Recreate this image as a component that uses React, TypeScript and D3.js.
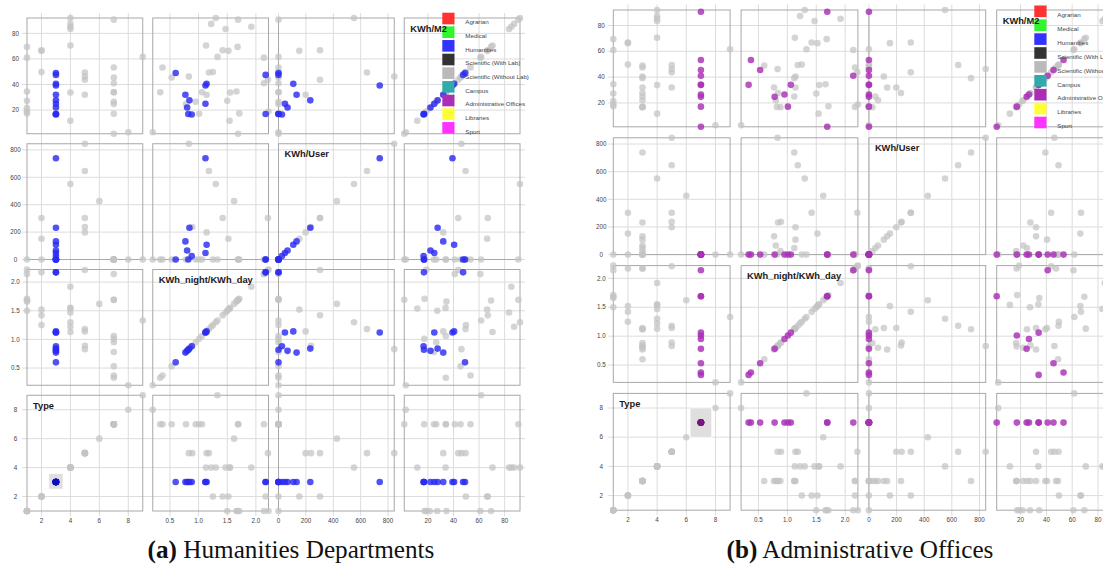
import React from 'react';
import * as d3 from 'd3';

const categories = [
  'Agrarian', 'Medical', 'Humanities', 'Scientific (With Lab)', 'Scientific (Without Lab)',
  'Campus', 'Administrative Offices', 'Libraries', 'Sport',
];
const categoryColors = [
  '#ff3131', '#31f531', '#3333ff', '#333333', '#bababa', '#2fabab', '#ab2fb5', '#ffff33', '#ff33ff',
];
const traitNames = ['Type', 'KWh_night/KWh_day', 'KWh/User', 'KWh/M2'];

// one entry per building (parallel arrays); null = missing value
const buildingType = [
  1, 1, 1, 1, 1, 1, 1,
  2, 2, 2, 2,
  3, 3, 3, 3, 3, 3, 3, 3, 3, 3, 3,
  4, 4, 4, 4, 4, 4, 4,
  5, 5, 5, 5, 5,
  6,
  7, 7, 7, 7, 7, 7, 7, 7, 7, 7,
  8,
  9,
];
const nightDayRatio = [
  1.68, 2.14, 1.66, 1.5, null, 2.22, 1.71,
  1.42, 1.52, 1.25, 2.17,
  0.6, 2.17, 1.14, 1.12, 0.77, 0.84, 1.12, 0.8, 2.17, 0.82, 0.88,
  1.3, 1.22, 1.92, 1.47, 1.13, 1.55, 1.54,
  0.83, 1.18, 2.21, 1.14, 0.89,
  1.62,
  0.33, 0.37, 0.53, 0.78, 0.95, 1.01, 1.06, 1.69, 1.69, 2.14,
  0.2,
  1.33,
];
const kwhPerUser = [
  null, null, null, null, null, null, 0,
  303, 152, 0, null,
  0, 0, 108, 739, 132, 232, 47, 66, 0, 0, 25,
  551, null, null, null, null, null, null,
  845, 646, 303, 198, 237,
  426,
  0, 0, 0, 0, 0, 0, 0, 0, 0, 0,
  0,
  0,
];
const kwhPerM2 = [
  69.4, 61, 34.5, 27.3, 21.5, 18.8, 17.4,
  66.8, 66.3, 49.7, null,
  49, 47.5, 40.5, 39.2, 32, 27.6, 25, 22, 16.9, 16.9, 16.6,
  92, 87.4, 85.2, 83.4, 70.5, 33.8, 11.7,
  46.2, 49.4, 43.7, 32, null,
  null,
  34, 53.3, 45.5, 24.7, 26.5, 17.1, 34, 90.7, 1.5, 41,
  2.7,
  61.6,
];

// brushed type range in the Type/Type cell of each panel: [[x0,x1],[y0,y1]]
const brushA = [[2.5, 3.5], [2.5, 3.6]];
const brushB = [[6.25, 7.75], [6, 8]];

const VARS = [buildingType, nightDayRatio, kwhPerUser, kwhPerM2];
const N = 4;

type Cfg = {
  left: number; top: number; pitch: number; pad: number; selected: number;
  brush: number[][]; legendX: number; legendY: number; legendStep: number;
  captionX: number; tag: string; caption: string; selColor: string; selDark: string;
};

const panels: Cfg[] = [
  {
    left: 22, top: 13, pitch: 125.75, pad: 10, selected: 3, brush: brushA,
    legendX: 442.3, legendY: 12.7, legendStep: 13.67,
    captionX: 291, tag: '(a)', caption: ' Humanities Departments',
    selColor: '#2b2bf2', selDark: '#1010d8',
  },
  {
    left: 607.8, top: 4.5, pitch: 127.8, pad: 11, selected: 7, brush: brushB,
    legendX: 1034.3, legendY: 5.5, legendStep: 13.9,
    captionX: 860, tag: '(b)', caption: ' Administrative Offices',
    selColor: '#a82fb4', selDark: '#8a1a98',
  },
];

function Panel({ cfg }: { cfg: Cfg }) {
  const { left, top, pitch, pad } = cfg;
  const domains = VARS.map((v) => d3.extent(v.filter((d) => d != null) as number[]) as [number, number]);
  const xs = domains.map((d, j) =>
    d3.scaleLinear().domain(d).range([left + j * pitch + pad / 2, left + j * pitch + pitch - pad / 2]));
  const ys = [0, 1, 2, 3].map((i) =>
    d3.scaleLinear().domain(domains[N - 1 - i]).range([top + i * pitch + pitch - pad / 2, top + i * pitch + pad / 2]));
  const total = N * pitch;
  const idx = d3.range(buildingType.length);
  const others = idx.filter((k) => buildingType[k] !== cfg.selected);
  const sel = idx.filter((k) => buildingType[k] === cfg.selected);
  const tickFont = "'Liberation Sans', Arial, sans-serif";

  const cells: React.ReactNode[] = [];
  for (let i = 0; i < N; i++) {
    for (let j = 0; j < N; j++) {
      const xv = VARS[j];
      const yv = VARS[N - 1 - i];
      const x = xs[j];
      const y = ys[i];
      const fx = left + j * pitch + pad / 2;
      const fy = top + i * pitch + pad / 2;
      const isBrushCell = i === N - 1 && j === 0;
      const valid = (k: number) => xv[k] != null && yv[k] != null;
      cells.push(
        <g key={`c${i}-${j}`}>
          <rect x={fx} y={fy} width={pitch - pad} height={pitch - pad} fill="none" stroke="#a8a8a8" strokeWidth={1} />
          {others.filter(valid).map((k) => (
            <circle key={`o${k}`} cx={x(xv[k] as number)} cy={y(yv[k] as number)} r={3.3}
              fill="#c4c4c4" fillOpacity={0.72} />
          ))}
          {sel.filter(valid).map((k) => (
            <circle key={`s${k}`} cx={x(xv[k] as number)} cy={y(yv[k] as number)} r={3.3}
              fill={isBrushCell ? cfg.selDark : cfg.selColor} fillOpacity={0.82} />
          ))}
          {isBrushCell && (
            <rect x={x(cfg.brush[0][0])} y={y(cfg.brush[1][1])}
              width={x(cfg.brush[0][1]) - x(cfg.brush[0][0])}
              height={y(cfg.brush[1][0]) - y(cfg.brush[1][1])}
              fill="#000" fillOpacity={0.125} stroke="#fff" />
          )}
        </g>,
      );
    }
  }

  const labels: React.ReactNode[] = [];
  for (let i = 0; i < N; i++) {
    const j = N - 1 - i;
    labels.push(
      <text key={`l${i}`} x={left + j * pitch + pad / 2 + 6} y={top + i * pitch + pad / 2 + 13.5}
        fontFamily="'Liberation Sans', Arial, sans-serif" fontWeight="bold" fontSize={9.3} fill="#1a1a1a">
        {traitNames[j]}
      </text>,
    );
  }

  return (
    <g>
      {/* grid lines */}
      {xs.map((x, j) => x.ticks(5).map((t) => (
        <line key={`gx${j}-${t}`} x1={x(t)} x2={x(t)} y1={top} y2={top + total} stroke="#dcdcdc" strokeWidth={1} />
      )))}
      {ys.map((y, i) => y.ticks(5).map((t) => (
        <line key={`gy${i}-${t}`} x1={left} x2={left + total} y1={y(t)} y2={y(t)} stroke="#dcdcdc" strokeWidth={1} />
      )))}
      {/* tick labels */}
      {xs.map((x, j) => {
        const f = x.tickFormat(5);
        return x.ticks(5).map((t) => (
          <text key={`tx${j}-${t}`} x={x(t)} y={top + total + 6.5} textAnchor="middle"
            fontFamily={tickFont} fontSize={6.3} fill="#444">{f(t)}</text>
        ));
      })}
      {ys.map((y, i) => {
        const f = y.tickFormat(5);
        return y.ticks(5).map((t) => (
          <text key={`ty${i}-${t}`} x={left - 6.5} y={y(t) + 2.2} textAnchor="middle"
            fontFamily={tickFont} fontSize={6.3} fill="#444">{f(t)}</text>
        ));
      })}
      {cells}
      {/* legend */}
      {categories.map((c, k) => (
        <g key={`lg${k}`}>
          <rect x={cfg.legendX} y={cfg.legendY + k * cfg.legendStep} width={12.2} height={11.6} fill={categoryColors[k]} />
          <text x={cfg.legendX + 23} y={cfg.legendY + k * cfg.legendStep + 11.5}
            fontFamily={tickFont} fontSize={6.2} fill="#444">{c}</text>
        </g>
      ))}
      {labels}
      <text x={cfg.captionX} y={558} textAnchor="middle" fontFamily="'Liberation Serif', 'Times New Roman', serif"
        fontSize={25.2} fill="#111">
        <tspan fontWeight="bold">{cfg.tag}</tspan>
        <tspan>{cfg.caption}</tspan>
      </text>
    </g>
  );
}

export default function App() {
  return (
    <svg width={1103} height={570} style={{ position: 'absolute', left: 0, top: 0, background: '#fff' }}>
      <rect x={0} y={0} width={1103} height={570} fill="#fff" />
      {panels.map((p, k) => <Panel key={k} cfg={p} />)}
    </svg>
  );
}
